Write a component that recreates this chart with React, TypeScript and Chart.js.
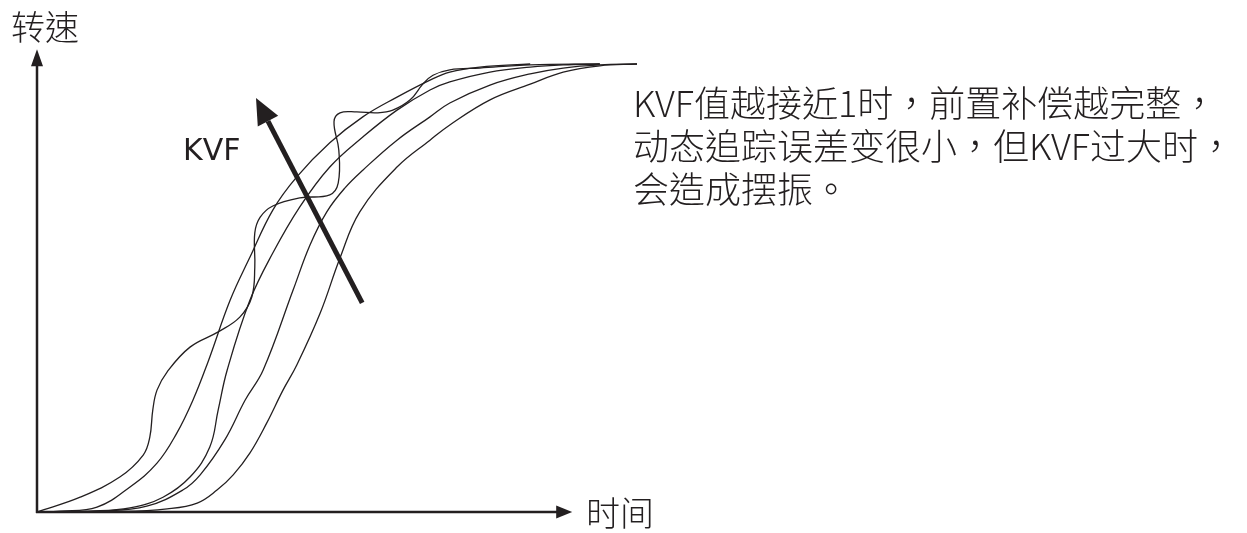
import React, { useEffect, useRef } from "react";
import { Chart, registerables } from "chart.js";

Chart.register(...registerables);

// Time (t) and speed (v) samples for each response curve
const curveA_t = [0, 7.2, 13.8, 17.7, 18.8, 19.3, 20, 21.7, 25.5, 30.2, 33.8, 35.8, 36.3, 36.3, 37.2, 39.3, 43.8, 48.8, 50.2, 50.3, 49.5, 50.5, 53.3, 56.7, 59.3, 62.2, 64.3, 66, 68.8, 73.8, 82.2, 93.8];
const curveA_v = [0, 3.3, 7.8, 12.7, 16.7, 22.8, 27.2, 31.3, 36.8, 40.2, 43.5, 48, 54.7, 62.3, 65.8, 68.3, 70.1, 70.8, 73.4, 80.8, 87.1, 89.1, 89.3, 89.1, 89.7, 92, 95.5, 97.5, 98.7, 99.1, 99.8, 100];

const curveB_t = [0, 3.8, 10, 15.5, 20, 23.3, 26, 28.5, 32.2, 35.5, 39.3, 43.3, 48.8, 54.3, 60, 65.5, 68.8, 73.8, 82.2];
const curveB_v = [0, 0.2, 1.1, 5.6, 10.9, 17.6, 25, 33.5, 47.3, 56.9, 67.4, 74.8, 82.4, 88.2, 92.6, 96.4, 98.2, 99.3, 100];

const curveC_t = [0, 8.8, 15.5, 21, 25.5, 28.8, 30.2, 31.7, 35.5, 39.3, 43.8, 48.8, 54.3, 60, 65.5, 68.8, 75.5, 82.2, 87.7, 93.8];
const curveC_v = [0, 0.2, 0.9, 3.3, 7.8, 14.5, 22.8, 31.7, 47.3, 57.8, 68.1, 77, 83.7, 89.7, 94.2, 96, 98.2, 99.3, 99.8, 100];

const curveD_t = [0, 10.5, 18.3, 24.3, 27.2, 31.3, 34.7, 37.7, 42.7, 45.5, 48.3, 51.3, 54.3, 60, 65.5, 68.8, 75.5, 82.2, 87.7, 93.8, 100];
const curveD_v = [0, 0.2, 1.3, 4.9, 8.3, 16.1, 25, 31.7, 49.6, 59.6, 67, 72.3, 76.3, 83, 88.2, 91.3, 95.3, 97.8, 99.1, 99.8, 100];

const curveE_t = [0, 13.8, 21.7, 26.7, 30, 32.7, 35.5, 38.3, 41, 43.3, 47.2, 50.5, 53.8, 60, 65.5, 68.8, 75.5, 82.2, 87.7, 93.8, 100];
const curveE_v = [0, 0.1, 0.7, 2, 4.9, 8.3, 13.2, 19.9, 27.2, 32.8, 44.4, 56.7, 67, 77, 83, 86.4, 92, 95.5, 98.2, 99.6, 100];

// KVF direction arrow: tail then tip (t, v)
const kvfArrow_t = [54.2, 36.5];
const kvfArrow_v = [46.7, 92.4];

// Axis extents (arrow tips) in data units
const axisEnd_t = 89.2;
const axisEnd_v = 103.3;

const axisLabelY = "转速";
const axisLabelX = "时间";
const arrowLabel = "KVF";
const noteLines = [
  "KVF值越接近1时，前置补偿越完整，",
  "动态追踪误差变很小，但KVF过大时，",
  "会造成摆振。",
];

const INK = "#231f20";

function toPoints(ts: number[], vs: number[]) {
  return ts.map((t, i) => ({ x: t, y: vs[i] }));
}

function drawArrowHead(ctx: CanvasRenderingContext2D, x0: number, y0: number, x1: number, y1: number, len: number, half: number) {
  const dx = x1 - x0;
  const dy = y1 - y0;
  const L = Math.hypot(dx, dy);
  const ux = dx / L;
  const uy = dy / L;
  const bx = x1 - ux * len;
  const by = y1 - uy * len;
  ctx.beginPath();
  ctx.moveTo(x1, y1);
  ctx.lineTo(bx - uy * half, by + ux * half);
  ctx.lineTo(bx + uy * half, by - ux * half);
  ctx.closePath();
  ctx.fill();
  return { bx, by };
}

const decorPlugin = {
  id: "decor",
  afterDatasetsDraw(chart: any) {
    const ctx: CanvasRenderingContext2D = chart.ctx;
    const xs = chart.scales.x;
    const ys = chart.scales.y;
    ctx.save();
    ctx.strokeStyle = INK;
    ctx.fillStyle = INK;
    // axes
    const ox = xs.getPixelForValue(0);
    const oy = ys.getPixelForValue(0);
    const xe = xs.getPixelForValue(axisEnd_t);
    const ye = ys.getPixelForValue(axisEnd_v);
    ctx.lineWidth = 2.5;
    ctx.lineCap = "butt";
    ctx.beginPath();
    ctx.moveTo(ox - 1, oy);
    ctx.lineTo(xe - 12, oy);
    ctx.stroke();
    ctx.beginPath();
    ctx.moveTo(ox, oy + 1);
    ctx.lineTo(ox, ye + 12);
    ctx.stroke();
    drawArrowHead(ctx, ox, oy, xe, oy, 16, 6.5);
    drawArrowHead(ctx, ox, oy, ox, ye, 17, 6);
    // KVF arrow
    const tx = xs.getPixelForValue(kvfArrow_t[0]);
    const ty = ys.getPixelForValue(kvfArrow_v[0]);
    const hx = xs.getPixelForValue(kvfArrow_t[1]);
    const hy = ys.getPixelForValue(kvfArrow_v[1]);
    const { bx, by } = drawArrowHead(ctx, tx, ty, hx, hy, 26, 11.5);
    ctx.lineWidth = 5;
    ctx.beginPath();
    ctx.moveTo(tx, ty);
    ctx.lineTo(bx, by);
    ctx.stroke();
    ctx.restore();
  },
};

export default function App() {
  const ref = useRef<HTMLCanvasElement | null>(null);

  useEffect(() => {
    if (!ref.current) return;
    const series = [
      [curveA_t, curveA_v],
      [curveB_t, curveB_v],
      [curveC_t, curveC_v],
      [curveD_t, curveD_v],
      [curveE_t, curveE_v],
    ];
    const chart = new Chart(ref.current, {
      type: "line",
      data: {
        datasets: series.map(([t, v], i) => ({
          label: "curve" + i,
          data: toPoints(t, v),
          borderColor: INK,
          borderWidth: 1.3,
          pointRadius: 0,
          tension: 0.4,
          fill: false,
          clip: false as any,
        })),
      },
      options: {
        animation: false,
        responsive: false,
        devicePixelRatio: 1,
        layout: { padding: { left: 37, right: 610, top: 64, bottom: 21 } },
        plugins: { legend: { display: false }, tooltip: { enabled: false }, title: { display: false } },
        scales: {
          x: { type: "linear", min: 0, max: 100, display: false },
          y: { type: "linear", min: 0, max: 100, display: false },
        },
      },
      plugins: [decorPlugin],
    });
    return () => chart.destroy();
  }, []);

  const cjk = '"Noto Sans CJK TC", "Noto Sans CJK SC", sans-serif';
  return (
    <div lang="zh-Hant" style={{ position: "absolute", left: 0, top: 0, width: 1247, height: 533, background: "#fff", overflow: "hidden" }}>
      <canvas ref={ref} width={1247} height={533} style={{ position: "absolute", left: 0, top: 0, width: 1247, height: 533 }} />
      <div style={{ position: "absolute", left: 11, top: 9, fontFamily: cjk, fontSize: 34, fontWeight: 300, lineHeight: 1, color: INK, whiteSpace: "nowrap" }}>{axisLabelY}</div>
      <div style={{ position: "absolute", left: 586, top: 495, fontFamily: cjk, fontSize: 34, fontWeight: 300, lineHeight: 1, color: INK, whiteSpace: "nowrap" }}>{axisLabelX}</div>
      <div style={{ position: "absolute", left: 183, top: 135, fontFamily: '"DejaVu Sans", sans-serif', fontSize: 30, lineHeight: 1, color: INK, whiteSpace: "nowrap" }}>{arrowLabel}</div>
      <div style={{ position: "absolute", left: 633, top: 80, fontFamily: cjk, fontSize: 36, fontWeight: 300, lineHeight: "43px", color: INK }}>
        {noteLines.map((l, i) => (
          <div key={i} style={{ whiteSpace: "nowrap" }}>{l}</div>
        ))}
      </div>
    </div>
  );
}
